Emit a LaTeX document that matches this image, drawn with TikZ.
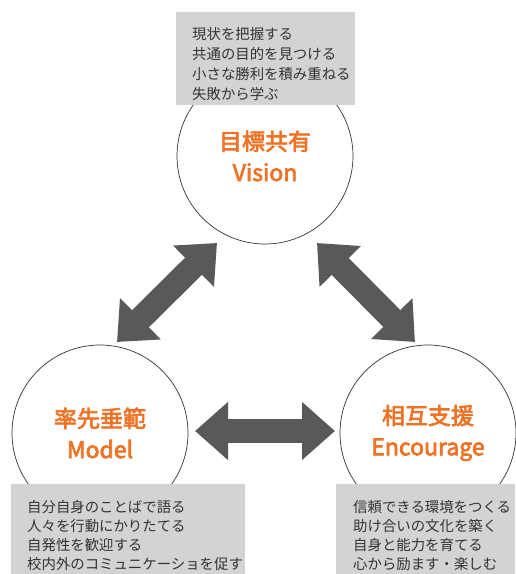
\documentclass[tikz,border=0pt]{standalone}
\usepackage{fontspec}
\setmainfont{Noto Sans CJK JP}
\newfontfamily\titlefont[FakeBold=3]{Noto Sans CJK JP}
\usetikzlibrary{arrows.meta,calc}
\definecolor{orng}{HTML}{EE7326}
\definecolor{boxgray}{HTML}{D1D3D4}
\definecolor{arrgray}{HTML}{58595B}
\definecolor{txtgray}{HTML}{333333}
\tikzset{
  ring/.style={circle,draw=txtgray,line width=0.7pt,minimum size=176pt,inner sep=0pt,
    text=orng,font=\titlefont\fontsize{23}{31}\selectfont,align=center},
  graybox/.style={fill=boxgray,inner sep=0pt,anchor=north west},
  boxtext/.style={anchor=north west,inner sep=0pt,align=left,text=txtgray,
    font=\fontsize{14.4}{20}\selectfont},
  boxtextb/.style={boxtext,font=\fontsize{14.4}{19}\selectfont},
  bigarrow/.style={draw=arrgray,line width=24pt,
    {Triangle[length=33pt,width=56pt]}-{Triangle[length=33pt,width=56pt]}}
}
\begin{document}
\begin{tikzpicture}[x=1pt,y=-1pt]
\useasboundingbox (0,0) rectangle (515,574);
% circles
\node[ring] (vision) at (265,156) {目標共有\\Vision};
\node[ring] (model) at (100,433) {率先垂範\\Model};
\node[ring] (enc) at (428,433) {相互支援\\Encourage};
% boxes
\node[graybox,minimum width=179pt,minimum height=93pt] (vbox) at (176,12) {};
\node[boxtext] (vtext) at (192,27) {現状を把握する\\共通の目的を見つける\\小さな勝利を積み重ねる\\失敗から学ぶ};
\node[graybox,minimum width=234pt,minimum height=90pt] (mbox) at (11,484) {};
\node[boxtextb] (mtext) at (27,500) {自分自身のことばで語る\\人々を行動にかりたてる\\自発性を歓迎する\\校内外のコミュニケーショを促す};
\node[graybox,minimum width=179pt,minimum height=90pt] (ebox) at (336,484) {};
\node[boxtextb] (etext) at (353,500) {信頼できる環境をつくる\\助け合いの文化を築く\\自身と能力を育てる\\心から励ます・楽しむ};
% arrow end points
\coordinate (a1) at (217,243);
\coordinate (a2) at (117,342);
\coordinate (b1) at (317,243);
\coordinate (b2) at (415,342);
\coordinate (c1) at (195,431);
\coordinate (c2) at (335,431);
\draw[bigarrow] (a1) -- (a2);
\draw[bigarrow] (b1) -- (b2);
\draw[bigarrow] (c1) -- (c2);
\end{tikzpicture}
\end{document}
